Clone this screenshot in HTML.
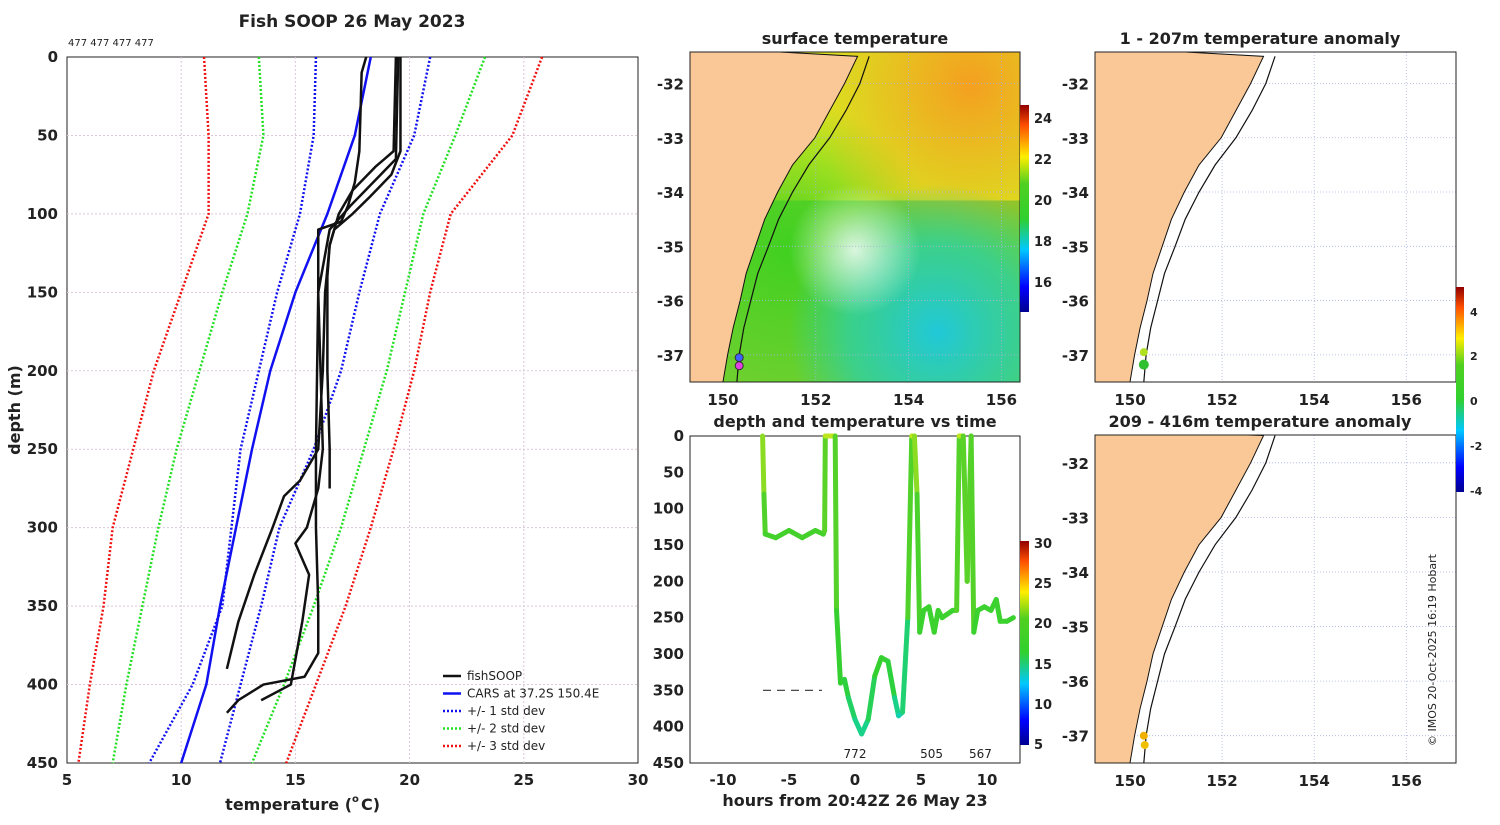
<!DOCTYPE html>
<html><head><meta charset="utf-8"><style>
body{margin:0;background:#fff;width:1500px;height:820px;overflow:hidden}
svg text{font-family:"DejaVu Sans","Liberation Sans",sans-serif}
</style></head><body>
<svg id="s" width="1500" height="820" xmlns="http://www.w3.org/2000/svg">
<defs>
<linearGradient id="jet" x1="0" y1="1" x2="0" y2="0">
<stop offset="0" stop-color="#00008f"/><stop offset="0.12" stop-color="#0000ff"/><stop offset="0.3" stop-color="#00c8ff"/><stop offset="0.45" stop-color="#30d030"/><stop offset="0.62" stop-color="#50d020"/><stop offset="0.75" stop-color="#ffee00"/><stop offset="0.9" stop-color="#ff5000"/><stop offset="1" stop-color="#900000"/>
</linearGradient>
<radialGradient id="g1" cx="0.85" cy="0.1" r="0.5"><stop offset="0" stop-color="#f4a020"/><stop offset="1" stop-color="#f4a020" stop-opacity="0"/></radialGradient>
<radialGradient id="g2" cx="0.75" cy="0.85" r="0.45"><stop offset="0" stop-color="#20c8d8"/><stop offset="0.6" stop-color="#30d0a0" stop-opacity="0.8"/><stop offset="1" stop-color="#30d0a0" stop-opacity="0"/></radialGradient>
<radialGradient id="g3" cx="0.3" cy="0.6" r="0.45"><stop offset="0" stop-color="#40d020"/><stop offset="1" stop-color="#40d020" stop-opacity="0"/></radialGradient>
<radialGradient id="g4" cx="0.5" cy="0.6" r="0.2"><stop offset="0" stop-color="#fff" stop-opacity="0.8"/><stop offset="1" stop-color="#fff" stop-opacity="0"/></radialGradient>
</defs>
</svg>
<script>
const NS="http://www.w3.org/2000/svg";const S=document.getElementById('s');
function el(t,a,p){const e=document.createElementNS(NS,t);for(const k in a)e.setAttribute(k,a[k]);(p||S).appendChild(e);return e;}
function tx(x,y,s,o,p){const e=el('text',Object.assign({x:x,y:y,'font-size':15,'font-weight':'bold','text-anchor':'middle',fill:'#222'},o||{}),p);e.textContent=s;return e;}

// ---- profile data ----
const depthStd=[0,50,100,150,200,250,300,350,400,450];
const carsMean=[18.3,17.6,16.4,15.0,13.9,13.1,12.4,11.7,11.1,10.0];
const sd1Lo=[15.9,15.8,15.2,14.2,13.4,12.6,12.2,11.8,10.5,8.6];
const sd1Hi=[20.9,20.2,18.7,17.8,17.0,15.8,14.3,13.5,12.6,11.7];
const sd2Lo=[13.4,13.6,12.9,11.8,10.8,9.8,9.0,8.3,7.6,7.0];
const sd2Hi=[23.3,22.0,20.6,19.8,19.0,18.0,17.0,15.8,14.5,13.1];
const sd3Lo=[11.0,11.2,11.2,10.0,8.8,7.9,7.0,6.6,6.0,5.5];
const sd3Hi=[25.8,24.5,21.8,20.9,20.2,19.3,18.3,17.2,15.9,14.6];
const fishDepths=[[0,60,75,90,100,110,120,140,200,250,275],[0,10,60,80,95,105,110,130,150,250,300,350,380,395,400,410,418],[0,60,70,85,100,120,150,200,250,270,280,300,330,360,390],[0,65,80,95,110,150,200,250,275,300,310,330,360,400,410]];
const fishTemps=[[19.6,19.6,19.2,18.2,17.5,16.7,16.5,16.4,16.4,16.5,16.5],[18.1,17.9,17.8,17.6,17.3,17.0,16.0,16.0,16.0,15.9,15.9,16.0,16.0,15.4,13.6,12.5,12.0],[19.4,19.3,18.5,17.5,16.9,16.5,16.3,16.2,16.0,15.2,14.5,14.0,13.2,12.5,12.0],[19.5,19.4,18.4,17.4,16.5,16.0,16.1,16.2,16.0,15.5,15.0,15.6,15.3,14.8,13.5]];
const xTicks=[5,10,15,20,25,30];const yTicks=[0,50,100,150,200,250,300,350,400,450];

const PX0=67,PX1=638,PY0=57,PY1=763;
const px=t=>PX0+(t-5)/25*(PX1-PX0), py=d=>PY0+d/450*(PY1-PY0);
el('rect',{x:PX0,y:PY0,width:PX1-PX0,height:PY1-PY0,fill:'#fff',stroke:'#222'});
xTicks.forEach((t,i)=>{if(i>0&&i<5)el('line',{x1:px(t),x2:px(t),y1:PY0,y2:PY1,stroke:'#d8c8d8','stroke-dasharray':'2,2'});tx(px(t),785,t);});
yTicks.forEach((d,i)=>{if(i>0&&i<9)el('line',{x1:PX0,x2:PX1,y1:py(d),y2:py(d),stroke:'#d8c8d8','stroke-dasharray':'2,2'});tx(58,py(d)+5,d,{'text-anchor':'end'});});
tx(352,810,'temperature (',{'font-size':16,'text-anchor':'end'});
tx(352,810,'o',{'font-size':10,'text-anchor':'start',dy:-8});tx(361,810,' C)',{'font-size':16,'text-anchor':'start'});
const yl=tx(20,410,'depth (m)',{'font-size':16,transform:'rotate(-90 20 410)'});
tx(352,27,'Fish SOOP 26 May 2023',{'font-size':17});
tx(68,46,'477 477 477 477',{'font-size':10,'font-weight':'normal','text-anchor':'start'});
function prof(ds,ts,c,w,dash,name){const p=ds.map((d,i)=>px(ts[i])+','+py(d)).join(' ');const e=el('polyline',{points:p,fill:'none',stroke:c,'stroke-width':w,'stroke-dasharray':dash||'','stroke-linejoin':'round'});}
[[sd3Lo,'#f01010'],[sd3Hi,'#f01010'],[sd2Lo,'#20e020'],[sd2Hi,'#20e020'],[sd1Lo,'#1010f0'],[sd1Hi,'#1010f0']].forEach((a,i)=>prof(depthStd,a[0],a[1],2.5,'2,2','std-dev-line-'+i));
prof(depthStd,carsMean,'#1010f0',2.5,'','cars-mean-line');
fishDepths.forEach((d,i)=>prof(d,fishTemps[i],'#111',2.5,'','fishsoop-profile-'+i));
const leg=[['fishSOOP','#111',''],['CARS at 37.2S 150.4E','#1010f0',''],['+/- 1 std dev','#1010f0','2,2'],['+/- 2 std dev','#20e020','2,2'],['+/- 3 std dev','#f01010','2,2']];
leg.forEach((l,i)=>{const y=676+i*17.5;el('line',{x1:443,x2:461,y1:y,y2:y,stroke:l[1],'stroke-width':2.5,'stroke-dasharray':l[2]});const t=tx(467,y+4,l[0],{'font-size':12,'font-weight':'normal','text-anchor':'start'});});

// ---- maps ----
const coastLat=[-31.5,-32,-32.5,-33,-33.5,-34,-34.5,-35,-35.5,-36,-36.5,-37,-37.5];
const coastLon=[152.9,152.62,152.3,151.98,151.5,151.18,150.9,150.7,150.5,150.37,150.22,150.1,150.0];
const trackLon=[153.15,152.95,152.65,152.3,151.85,151.5,151.2,150.98,150.75,150.6,150.45,150.35,150.3];
function map(x0,y0,w,h,lonA,lonB,latT,latB,name){
 const g=el('g',{});
 const X=l=>x0+(l-lonA)/(lonB-lonA)*w,Y=l=>y0+(latT-l)/(latT-latB)*h;
 return {g,X,Y};
}
function mapFrame(m,x0,y0,w,h,latTicks,field){
 const {g,X,Y}=m;
 const cp='cp'+x0+y0;const c=el('clipPath',{id:cp},g);el('rect',{x:x0,y:y0,width:w,height:h},c);
 const inner=el('g',{'clip-path':'url(#'+cp+')'},g);
 el('rect',{x:x0,y:y0,width:w,height:h,fill:field?'#70d030':'#fff'},inner);
 if(field){el('rect',{x:x0,y:y0,width:w,height:h*0.45,fill:'#d8e820'},inner);
  ['g3','g1','g2','g4'].forEach(id=>el('rect',{x:x0,y:y0,width:w,height:h,fill:'url(#'+id+')'},inner));}
 [150,152,154,156].forEach(l=>el('line',{x1:X(l),x2:X(l),y1:y0,y2:y0+h,stroke:'#aab4e0','stroke-dasharray':'1,2','stroke-width':0.8},inner));
 latTicks.forEach(l=>el('line',{x1:x0,x2:x0+w,y1:Y(l),y2:Y(l),stroke:'#aab4e0','stroke-dasharray':'1,2','stroke-width':0.8},inner));
 let p=x0+','+(y0-5)+' ';coastLat.forEach((l,i)=>p+=X(coastLon[i])+','+Y(l)+' ');p+=X(coastLon[12])+','+(y0+h+5)+' '+(x0-5)+','+(y0+h+5)+' '+(x0-5)+','+(y0-5);
 el('polygon',{points:p,fill:'#fac896',stroke:'#111','stroke-width':1},inner);
 el('polyline',{points:coastLat.map((l,i)=>X(trackLon[i])+','+Y(l)).join(' '),fill:'none',stroke:'#111','stroke-width':1.2},inner);
 el('rect',{x:x0,y:y0,width:w,height:h,fill:'none',stroke:'#222'},g);
 [150,152,154,156].forEach(l=>tx(X(l),y0+h+23,l,{},g));
 latTicks.forEach(l=>tx(x0-6,Y(l)+6,l,{'text-anchor':'end'},g));
 return inner;
}
const lat=[-32,-33,-34,-35,-36,-37];
const m1=map(690,52,330,330,149.29,156.4,-31.42,-37.5,'sst-map');const i1=mapFrame(m1,690,52,330,330,lat,true);
el('circle',{cx:m1.X(150.35),cy:m1.Y(-37.05),r:4,fill:'#4060ff',stroke:'#333'},i1);
el('circle',{cx:m1.X(150.35),cy:m1.Y(-37.2),r:4,fill:'#e040e0',stroke:'#333'},i1);
tx(855,44,'surface temperature',{'font-size':16});
el('rect',{x:1020,y:105,width:9,height:207,fill:'url(#jet)'});
[[24,118],[22,159],[20,200],[18,241],[16,282]].forEach(a=>tx(1034,a[1]+5,a[0],{'font-size':13,'text-anchor':'start'}));

const m2=map(1095,52,361,330,149.24,157.08,-31.42,-37.5,'anomaly-map-shallow');mapFrame(m2,1095,52,361,330,lat,false);
el('circle',{cx:m2.X(150.3),cy:m2.Y(-36.95),r:4,fill:'#b0e020'},m2.g);el('circle',{cx:m2.X(150.3),cy:m2.Y(-37.18),r:5,fill:'#30c030'},m2.g);
tx(1260,44,'1 - 207m temperature anomaly',{'font-size':16});
const m3=map(1095,435,361,328,149.24,157.08,-31.49,-37.5,'anomaly-map-deep');mapFrame(m3,1095,435,361,328,lat,false);
el('circle',{cx:m3.X(150.3),cy:m3.Y(-37.0),r:4,fill:'#f0b000'},m3.g);el('circle',{cx:m3.X(150.32),cy:m3.Y(-37.17),r:4,fill:'#f0c000'},m3.g);
tx(1260,427,'209 - 416m temperature anomaly',{'font-size':16});
el('rect',{x:1456,y:287,width:8,height:205,fill:'url(#jet)'});
[[4,311],[2,355],[0,400],[-2,445],[-4,490]].forEach(a=>tx(1470,a[1]+5,a[0],{'font-size':11,'text-anchor':'start'}));
tx(1436,650,'© IMOS 20-Oct-2025 16:19 Hobart',{'font-size':11,'font-weight':'normal',transform:'rotate(-90 1436 650)'});

// ---- depth vs time ----
const hours=[-7,-6.9,-6.8,-6,-5,-4,-3,-2.4,-2.3,-2.25,-1.5,-1.4,-1.1,-0.8,-0.5,0,0.5,1,1.5,2,2.5,3,3.3,3.6,4,4.3,4.5,4.7,4.9,5.2,5.6,6,6.3,6.6,7,7.4,7.7,7.9,8.2,8.5,8.8,9.0,9.3,9.8,10.3,10.7,11.0,11.5,12];
const depths=[0,80,135,140,130,140,130,135,130,0,0,240,340,335,360,390,410,390,330,305,310,360,385,380,250,0,0,80,270,240,235,270,240,250,245,240,240,0,0,200,0,270,240,235,240,225,255,255,250];
const temps=[21,19,17,17,17,17,17,17,17,21,21,16,15,15,14.5,13.5,13,13.5,15,15.5,15.5,14,12.5,12.5,15,21,21,19,16,16,16,16,16,16,16,16,16,21,21,17,21,16,16,16,16,16,16,16,16];
const TX0=690,TX1=1020,TY0=436,TY1=763;
const ty=d=>TY0+d/450*(TY1-TY0);
const tX=h=>855+h*13.2;
el('rect',{x:TX0,y:TY0,width:TX1-TX0,height:TY1-TY0,fill:'#fff',stroke:'#222'});
[-10,-5,0,5,10].forEach(h=>tx(tX(h),785,h));
[0,50,100,150,200,250,300,350,400,450].forEach(d=>tx(684,ty(d)+5,d,{'text-anchor':'end'}));
tx(855,427,'depth and temperature vs time',{'font-size':16});
tx(855,806,'hours from 20:42Z 26 May 23',{'font-size':16});
const cmap=[[5,[0,0,143]],[8,[0,0,255]],[11,[0,200,255]],[13,[20,210,150]],[15,[48,208,48]],[19,[90,210,40]],[21,[190,230,30]],[23,[255,238,0]],[27,[255,80,0]],[30,[144,0,0]]];
function jet(t){for(let i=1;i<cmap.length;i++)if(t<=cmap[i][0]){const f=Math.max(0,(t-cmap[i-1][0])/(cmap[i][0]-cmap[i-1][0]));const a=cmap[i-1][1],b=cmap[i][1];return 'rgb('+a.map((c,k)=>Math.round(c+(b[k]-c)*f)).join(',')+')';}return 'rgb(144,0,0)';}
for(let i=1;i<hours.length;i++){const e=el('line',{x1:tX(hours[i-1]),y1:ty(depths[i-1]),x2:tX(hours[i]),y2:ty(depths[i]),stroke:jet((temps[i-1]+temps[i])/2),'stroke-width':5,'stroke-linecap':'round'});}
el('line',{x1:763,x2:822,y1:ty(350),y2:ty(350),stroke:'#333','stroke-dasharray':'8,6','stroke-width':1.2});
[['772',0],['505',5.8],['567',9.5]].forEach(a=>tx(tX(a[1]),758,a[0],{'font-size':12,'font-weight':'normal'}));
el('rect',{x:1020,y:541,width:9,height:204,fill:'url(#jet)'});
[[30,543],[25,583],[20,623],[15,664],[10,704],[5,744]].forEach(a=>tx(1034,a[1]+5,a[0],{'font-size':13,'text-anchor':'start'}));
</script>
</body></html>
